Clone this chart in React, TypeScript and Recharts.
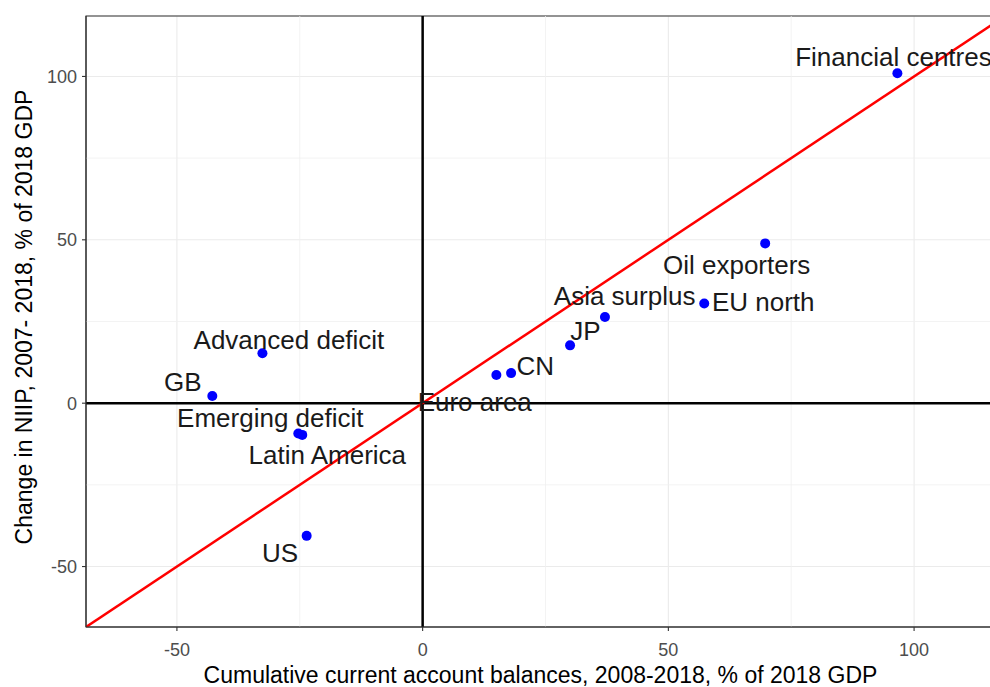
import {
  ScatterChart,
  Scatter,
  XAxis,
  YAxis,
  CartesianGrid,
  ReferenceLine,
  ReferenceArea,
  Label,
} from 'recharts';

const FONT = '"Liberation Sans", Arial, sans-serif';

// country groups, point values
const names = [
  'Financial centres',
  'Oil exporters',
  'EU north',
  'Asia surplus',
  'JP',
  'CN',
  'Euro area',
  'Advanced deficit',
  'GB',
  'Emerging deficit',
  'Latin America',
  'US',
];
const caBalance = [96.6, 69.7, 57.3, 37.1, 30.0, 18.0, 15.0, -32.6, -42.8, -25.3, -24.5, -23.6];
const niipChange = [101.0, 48.9, 30.5, 26.4, 17.7, 9.2, 8.6, 15.3, 2.2, -9.3, -9.7, -40.6];

// where the (repelled) text labels sit, in data units
const labelX = [95.8, 63.9, 69.3, 41.1, 33.1, 22.9, 10.6, -27.2, -48.8, -31.0, -19.4, -29.0];
const labelY = [105.9, 42.5, 31.0, 32.9, 22.2, 11.6, 0.6, 19.4, 6.7, -4.5, -15.8, -45.9];

const domain: [number, number] = [-68.5, 118.5];
const majorTicks = [-50, 0, 50, 100];
const minorTicks = [-25, 25, 75];
// 45 degree line
const diagonal = [
  { x: -68.5, y: -68.5 },
  { x: 118.5, y: 118.5 },
];

const points = names.map((name, i) => ({ name, x: caBalance[i], y: niipChange[i] }));
const labels = names.map((name, i) => ({ name, x: labelX[i], y: labelY[i] }));

function TextLabel(props: any) {
  const { cx, cy, payload } = props;
  return (
    <text x={cx} y={cy} dy={9.3} textAnchor="middle" fontSize={26} fontFamily={FONT} fill="#1a1a1a">
      {payload.name}
    </text>
  );
}

function Dot(props: any) {
  return <circle cx={props.cx} cy={props.cy} r={5} fill="#0000ff" />;
}

export default function App() {
  return (
    <div
      style={{
        position: 'absolute',
        left: 0,
        top: 0,
        width: 990,
        height: 687,
        overflow: 'hidden',
        background: '#fff',
      }}
    >
      <ScatterChart width={1010} height={687} margin={{ top: 16, right: 5, bottom: 0, left: 0 }}>
        <CartesianGrid stroke="#ebebeb" strokeWidth={1.1} />
        {minorTicks.map((t) => (
          <ReferenceLine key={'mx' + t} x={t} stroke="#f0f0f0" strokeWidth={0.8} />
        ))}
        {minorTicks.map((t) => (
          <ReferenceLine key={'my' + t} y={t} stroke="#f0f0f0" strokeWidth={0.8} />
        ))}
        <XAxis
          type="number"
          dataKey="x"
          domain={domain}
          ticks={majorTicks}
          allowDataOverflow
          height={60}
          tickSize={4}
          tickMargin={12}
          axisLine={{ stroke: '#333', strokeWidth: 1.1 }}
          tickLine={{ stroke: '#333', strokeWidth: 1.1 }}
          tick={{ fill: '#4d4d4d', fontSize: 18, fontFamily: FONT }}
        >
          <Label
            content={(p: any) => {
              const vb = p.viewBox;
              return (
                <text
                  x={vb.x + vb.width / 2 - 5}
                  y={vb.y + 55.5}
                  textAnchor="middle"
                  fontSize={23}
                  fontFamily={FONT}
                  fill="#000"
                >
                  Cumulative current account balances, 2008-2018, % of 2018 GDP
                </text>
              );
            }}
          />
        </XAxis>
        <YAxis
          type="number"
          dataKey="y"
          domain={domain}
          ticks={majorTicks}
          allowDataOverflow
          width={86}
          tickSize={4}
          tickMargin={5}
          axisLine={{ stroke: '#333', strokeWidth: 1.1 }}
          tickLine={{ stroke: '#333', strokeWidth: 1.1 }}
          tick={{ fill: '#4d4d4d', fontSize: 18, fontFamily: FONT }}
        >
          <Label
            content={() => (
              <text
                x={32}
                y={317}
                transform="rotate(-90, 32, 317)"
                textAnchor="middle"
                fontSize={23}
                fontFamily={FONT}
                fill="#000"
              >
                Change in NIIP, 2007- 2018, % of 2018 GDP
              </text>
            )}
          />
        </YAxis>
        <ReferenceArea
          x1={domain[0]}
          x2={domain[1]}
          y1={domain[0]}
          y2={domain[1]}
          fill="none"
          fillOpacity={0}
          stroke="#333"
          strokeWidth={1.1}
        />
        <ReferenceLine x={0} stroke="#000" strokeWidth={2.5} />
        <ReferenceLine y={0} stroke="#000" strokeWidth={2.5} />
        <ReferenceLine
          segment={diagonal}
          stroke="#ff0000"
          strokeWidth={2.5}
          ifOverflow="hidden"
        />
        <Scatter data={points} shape={<Dot />} isAnimationActive={false} />
        <Scatter data={labels} shape={<TextLabel />} isAnimationActive={false} />
      </ScatterChart>
    </div>
  );
}
